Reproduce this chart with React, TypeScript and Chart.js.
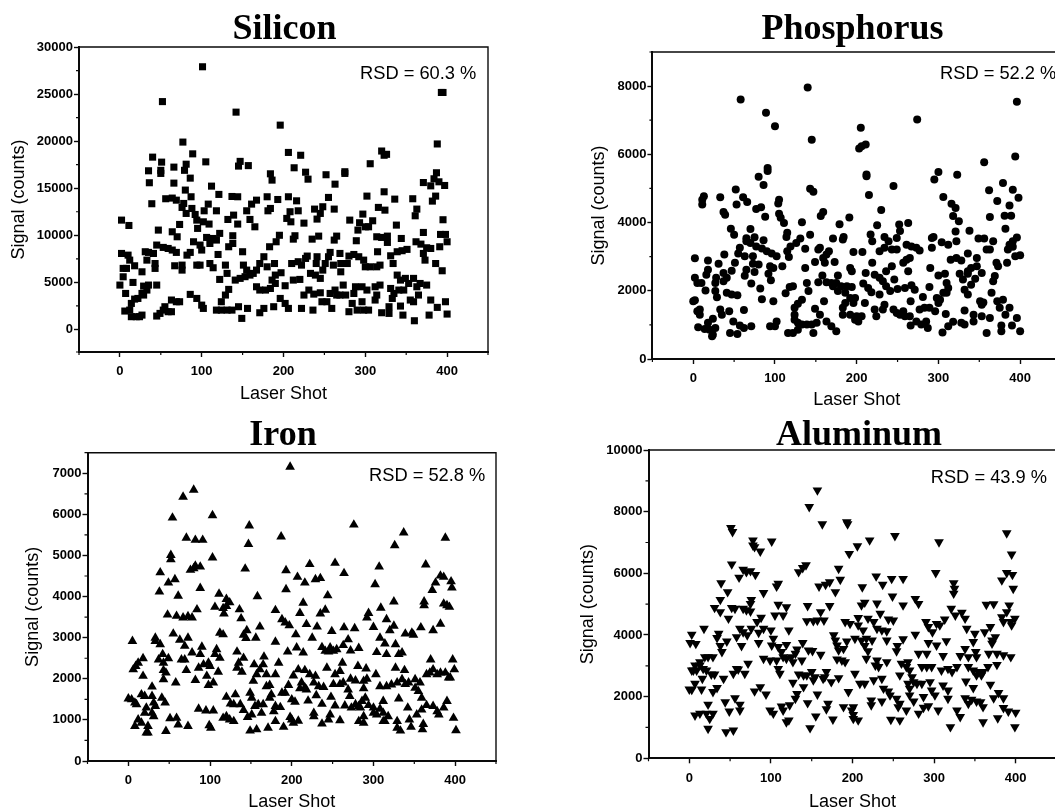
import React, { useEffect, useRef } from "react";
import { Chart, registerables } from "chart.js";

Chart.register(...registerables);

type Pt = [number, number];

const shotTicks = [0, 100, 200, 300, 400];
const shotMinorTicks = [-50, 50, 150, 250, 350, 450];

const siliconTicks = [0, 5000, 10000, 15000, 20000, 25000, 30000];
const siliconMinorTicks = [-2400, 2500, 7500, 12500, 17500, 22500, 27500];
const phosphorusTicks = [0, 2000, 4000, 6000, 8000];
const phosphorusMinorTicks = [1000, 3000, 5000, 7000, 9000];
const ironTicks = [0, 1000, 2000, 3000, 4000, 5000, 6000, 7000];
const ironMinorTicks = [500, 1500, 2500, 3500, 4500, 5500, 6500, 7500];
const aluminumTicks = [0, 2000, 4000, 6000, 8000, 10000];
const aluminumMinorTicks = [1000, 3000, 5000, 7000, 9000];

const siliconPoints: Pt[] = [
  [101,27900],[393,25170],[395,25170],[52,24200],[142,23080],[196,21700],[77,19900],[388,19700],[40,18300],[89,18650],[206,18800],[221,18500],[320,18950],[326,18600],[323,18500],
  [51,17770],[105,17800],[147,17850],[145,17350],[157,17400],[306,17600],[66,17240],[81,17550],[79,16900],[35,16850],[50,16900],[50,16570],[213,17170],[184,16530],[186,15860],[227,16700],[230,15960],[252,16430],[275,16750],[275,16570],[387,16640],[86,16070],[36,15580],[66,15540],[263,15430],[112,15220],
  [371,15600],[380,15250],[384,16000],[390,15680],[397,15290],[323,14620],[80,14800],[121,14340],[137,14120],[144,14090],[87,14090],[180,14090],[193,13800],[206,14090],[216,13660],[255,14020],[302,14160],[336,13840],[358,13880],[386,14160],[382,13630],
  [56,13880],[64,13950],[69,13730],[78,13380],[76,12960],[39,13350],[167,13730],[161,13310],[108,13310],[103,12600],[118,12600],[88,12850],[92,12210],[81,12320],[94,11610],[139,12140],[132,11680],[144,11190],[155,12600],[159,11680],[165,10900],[184,12850],[181,12600],
  [208,12500],[204,11790],[209,11430],[218,12600],[225,11290],[238,12780],[245,12320],[248,13030],[241,11720],[262,12780],[316,12960],[324,12670],[363,12780],[361,12070],[281,11610],[297,12250],[293,11330],[304,10900],[309,11540],[300,10900],[291,10550],[338,11080],
  [2,11610],[11,11040],[73,11150],[102,11430],[109,11190],[47,10550],[64,10370],[70,9840],[95,10730],[395,11650],[371,10300],[392,10090],[398,10090],[122,10200],[138,9950],[106,9770],[114,9660],[110,9130],[118,9490],[195,10000],[191,9310],[183,8780],[214,9950],[212,9590],[235,9590],[243,9910],[265,9910],[262,9490],[289,9420],
  [314,9840],[320,9770],[327,9910],[327,9240],[344,9660],[362,9310],[368,9060],[375,8670],[391,8780],[400,9310],[45,8960],[53,8710],[59,8600],[64,8430],[69,8180],[31,8250],[35,8180],[41,8070],[2,8070],[10,7890],[12,7360],[82,7890],[86,8180],[90,9310],[98,8960],[100,8430],[133,8780],[138,9130],[150,8250],[120,7960],[315,8250],
  [257,8180],[255,7720],[269,8070],[280,7790],[286,7960],[292,7720],[298,7360],[331,7820],[339,8250],[345,8360],[351,8500],[380,8600],[371,8070],[373,7360],[334,7000],[386,7000],[394,6230],[76,6830],[67,6760],[76,6300],[94,6830],[98,6830],[110,7000],[114,6550],[129,6830],[131,5950],
  [176,7720],[171,7000],[180,6650],[167,6300],[163,5950],[151,6830],[155,6300],[159,5770],[153,5600],[147,5420],[141,5240],[189,7000],[210,7000],[218,7190],[227,7540],[229,7790],[222,6830],[241,7720],[240,7000],[251,7000],[261,6830],[248,6300],[270,7000],[278,7000],[270,6120],[300,6650],[306,6650],[314,6650],[318,6830],
  [33,7360],[43,7000],[43,6480],[4,6480],[8,6480],[18,6760],[27,6120],[4,5590],[197,6020],[190,5770],[186,5240],[233,5950],[239,5770],[245,5420],[212,5240],[220,5310],[202,4640],[122,5310],[339,5770],[343,5240],[349,5420],[359,5420],[353,4880],[363,4530],[375,4710],[367,4880],[16,4990],[0,4710],[7,3820],
  [29,4600],[35,4710],[45,4710],[27,3820],[33,4180],[29,3650],[22,3290],[18,3220],[14,2760],[6,1950],[12,2050],[14,1350],[20,1350],[24,1350],[27,1520],[45,1420],[49,1700],[53,2050],[59,1880],[63,1880],[55,2410],[63,3120],[69,2940],[73,2940],[86,3720],[94,3290],[100,2580],[102,2230],
  [118,2050],[124,2050],[131,2050],[137,2050],[124,2940],[129,3650],[133,4250],[145,2410],[149,1170],[156,2230],[171,1770],[176,2230],[188,2410],[196,3290],[202,2760],[206,2230],[222,2230],[236,2050],[171,4180],[178,4180],[184,4350],[167,4530],[190,4880],[225,3650],[231,4180],[237,3750],[245,3890],[247,2940],[253,2940],[259,2230],
  [257,3820],[263,4180],[269,3650],[273,4710],[276,3650],[265,3650],[280,1880],[284,2760],[288,4530],[290,2050],[296,2940],[298,2050],[304,2050],[286,3820],[296,4530],[302,4180],[312,4530],[318,4710],[312,3120],[314,3650],[320,1770],[329,1700],[331,4350],[333,3290],[329,2410],[341,4180],[347,4180],[335,3820],[343,2480],[346,1520],[355,3120],[359,2940],[365,3650],[360,920],[378,1520],[380,3120],[388,2340],[398,2940],[400,1630],
];

const phosphorusPoints: Pt[] = [
  [140,7960],[58,7610],[89,7220],[396,7540],[100,6820],[274,7020],[145,6430],[205,6780],[203,6170],[206,6240],[211,6290],[394,5940],[356,5770],[91,5600],[91,5510],[212,5410],[212,5360],[300,5480],[295,5260],[323,5400],[80,5340],[86,5100],[245,5070],[379,5160],[143,4990],[147,4900],[52,4970],[362,4950],[391,4960],
  [13,4770],[11,4670],[11,4530],[33,4740],[61,4740],[66,4600],[215,4810],[306,4750],[398,4730],[372,4630],[105,4670],[104,4560],[53,4530],[77,4400],[83,4450],[316,4550],[321,4430],[387,4500],[230,4370],[37,4310],[39,4230],[159,4310],[156,4190],[88,4170],[105,4260],[107,4140],[111,3990],[191,4150],[318,4190],[325,4040],[363,4160],[381,4200],[389,4200],
  [133,4010],[179,3950],[225,3920],[252,3940],[263,3990],[70,3810],[46,3820],[50,3640],[382,3820],[253,3750],[249,3550],[321,3740],[338,3760],[115,3700],[114,3580],[217,3650],[219,3450],[143,3640],[171,3530],[184,3580],[183,3500],[234,3580],[239,3450],[349,3530],[356,3530],[292,3550],[294,3580],[396,3560],[391,3450],[387,3350],
  [65,3540],[75,3570],[70,3400],[65,3450],[86,3480],[131,3530],[126,3400],[119,3300],[115,3160],[304,3420],[312,3350],[322,3450],[367,3450],[77,3300],[84,3240],[90,3160],[96,3090],[102,3010],[261,3350],[267,3300],[273,3260],[277,3180],[137,3230],[153,3210],[155,3260],[166,3160],[163,3060],[228,3160],[234,3260],[243,3210],[249,3210],[292,3260],[196,3140],[207,3140],[359,3210],[363,3210],[385,3210],[391,3290],
  [57,3260],[55,3090],[63,3010],[73,3010],[336,3090],[38,3060],[2,2950],[18,2890],[347,2960],[394,3010],[400,3040],[117,2990],[159,2960],[261,2910],[265,2960],[257,2820],[315,2910],[322,2960],[328,2890],[371,2820],[373,2720],[384,2820],[31,2790],[51,2820],[73,2790],[80,2770],[149,2840],[161,2820],[173,2840],[219,2820],
  [65,2620],[94,2720],[98,2670],[109,2720],[137,2670],[192,2670],[194,2570],[243,2720],[290,2670],[347,2720],[340,2670],[336,2570],[18,2620],[16,2470],[37,2520],[47,2590],[75,2550],[63,2440],[92,2500],[95,2310],[211,2520],[236,2570],[263,2570],[300,2450],[308,2500],[326,2500],[336,2500],[353,2520],[369,2430],[367,2280],[177,2450],[158,2450],
  [222,2470],[228,2380],[232,2280],[236,2130],[241,1990],[28,2380],[27,2230],[37,2280],[41,2380],[2,2380],[5,2230],[10,2230],[246,2330],[153,2250],[163,2250],[169,2230],[175,2230],[171,2130],[208,2210],[214,2080],[218,1960],[310,2230],[312,2080],[330,2330],[345,2350],[340,2180],[332,2030],[336,1890],[71,2210],[82,2070],[122,2130],[118,2110],[139,2230],[141,1990],
  [181,2130],[188,2130],[194,2110],[177,1990],[186,1940],[250,2050],[259,2080],[267,2160],[271,2030],[289,2110],[15,2010],[27,1990],[29,1810],[41,1940],[47,1890],[54,1870],[113,1930],[228,1890],[365,1940],[306,1940],[310,1940],[302,1740],[298,1790],[2,1720],[0,1690],[84,1750],[98,1690],[160,1690],[198,1790],[192,1790],[281,1820],[372,1690],[379,1740],
  [133,1740],[128,1620],[124,1500],[351,1690],[355,1660],[353,1590],[210,1640],[186,1640],[183,1500],[196,1640],[266,1690],[300,1640],[234,1590],[375,1500],[387,1500],[149,1470],[8,1450],[5,1400],[8,1300],[62,1440],[33,1450],[35,1300],[44,1400],[222,1450],[232,1450],[224,1250],[245,1450],[249,1350],[253,1300],[257,1400],[259,1250],[265,1250],[277,1450],[283,1500],[289,1500],[296,1400],[332,1420],
  [183,1300],[192,1300],[200,1250],[206,1250],[198,1150],[202,1100],[155,1300],[163,1100],[309,1320],[124,1300],[124,1150],[128,1060],[133,1010],[139,1010],[145,1010],[151,1060],[343,1300],[343,1100],[353,1250],[363,1200],[382,1300],[396,1200],[49,1100],[24,1180],[18,1060],[102,1100],[94,960],[100,960],[273,1100],[279,1010],[285,1100],[287,910],[266,980],[318,1090],[328,1060],[332,1010],[312,960],[305,780],
  [169,960],[175,810],[71,960],[57,980],[62,910],[6,930],[14,880],[20,860],[27,910],[377,980],[377,810],[390,980],[400,810],[359,760],[24,710],[23,670],[45,760],[54,730],[116,760],[122,760],[128,860],[147,760],
];

const ironPoints: Pt[] = [
  [198,7190],[80,6630],[67,6460],[103,6010],[54,5950],[276,5780],[148,5760],[337,5590],[187,5490],[388,5460],[71,5460],[82,5410],[91,5410],[326,5280],[147,5310],[52,5040],[52,4940],[103,4980],[222,4820],[253,4850],[364,4810],[307,4760],[143,4710],[82,4780],[76,4680],[80,4720],[88,4760],[193,4670],[39,4620],[264,4600],
  [207,4510],[216,4370],[229,4450],[235,4480],[382,4540],[386,4510],[376,4370],[49,4370],[57,4450],[302,4330],[395,4400],[396,4250],[88,4240],[193,4210],[38,4150],[372,4190],[61,4050],[111,4100],[158,4040],[244,4060],[120,3970],[124,3890],[120,3800],[325,3910],[214,3880],[362,3910],[362,3820],[386,3860],[390,3820],[393,3780],[106,3780],[116,3750],[309,3760],[84,3720],[136,3720],[180,3700],[241,3710],
  [294,3630],[292,3520],[210,3630],[235,3620],[48,3590],[59,3560],[67,3520],[73,3550],[78,3520],[117,3620],[138,3500],[316,3480],[188,3480],[192,3400],[197,3330],[218,3360],[231,3300],[300,3290],[325,3320],[264,3280],[277,3260],[320,3210],[358,3280],[161,3300],[145,3210],[141,3100],[144,3020],[382,3370],[373,3210],[339,3130],[347,3150],[349,3100],[112,3150],[116,3110],[55,3130],[205,3110],[249,3190],[156,3030],[225,3030],[308,3030],
  [33,3030],[33,2950],[39,2870],[63,2980],[69,2830],[5,2950],[73,3030],[180,2930],[269,2990],[263,2850],[314,2890],[327,2870],[237,2800],[241,2710],[247,2790],[251,2710],[255,2750],[245,2690],[90,2810],[88,2630],[98,2420],[206,2790],[214,2670],[108,2750],[106,2630],[112,2540],[272,2720],[282,2780],[195,2690],[78,2670],[304,2680],[133,2690],[141,2540],[316,2630],[335,2670],[331,2630],
  [42,2630],[37,2500],[49,2530],[43,2420],[65,2500],[69,2500],[166,2570],[370,2500],[397,2500],[18,2530],[12,2420],[9,2340],[6,2260],[262,2420],[184,2420],[86,2300],[92,2380],[100,2340],[71,2240],[135,2420],[133,2300],[139,2200],[154,2380],[165,2380],[161,2260],[157,2140],[281,2340],[291,2280],[327,2300],[338,2240],[208,2260],[216,2240],[222,2140],[229,2100],[43,2240],[46,2180],[243,2300],[259,2220],[110,2200],[104,1940],
  [373,2260],[365,2140],[382,2180],[388,2180],[399,2260],[369,2180],[378,2140],[394,2060],[18,2100],[169,2140],[180,2140],[253,2140],[202,2110],[303,2140],[96,2100],[272,2030],[278,1990],[292,2030],[288,1980],[335,2020],[343,1940],[351,2020],[357,1940],[339,1900],[43,2020],[58,1940],[82,2000],[153,1980],[392,2060],[98,1880],[212,1940],[216,1820],[196,1880],[169,1850],[173,1880],[251,1900],[259,1900],[263,1940],[227,1940],[233,1850],[239,1830],
  [308,1850],[316,1850],[322,1890],[329,1940],[351,1810],[355,1730],[359,1570],[29,1840],[288,1800],[210,1800],[218,1770],[269,1770],[271,1610],[188,1690],[192,1690],[149,1690],[151,1570],[131,1650],[120,1590],[175,1650],[173,1570],[16,1650],[20,1610],[29,1610],[41,1570],[230,1630],[331,1550],[248,1590],[0,1550],[4,1530],[220,1500],[200,1530],[204,1470],[312,1490],[390,1490],[290,1570],[31,1450],[45,1450],[8,1450],[10,1410],
  [278,1410],[286,1490],[282,1370],[237,1420],[129,1410],[137,1410],[125,1430],[159,1410],[165,1410],[155,1370],[180,1370],[186,1340],[253,1380],[265,1380],[273,1330],[284,1330],[294,1390],[300,1330],[308,1300],[365,1390],[373,1370],[22,1330],[33,1370],[342,1330],[86,1300],[95,1260],[104,1260],[141,1270],[178,1240],[359,1280],[353,1160],[378,1240],[380,1160],[386,1330],[163,1200],[227,1200],[227,1120],[151,1160],[146,1100],
  [300,1200],[304,1160],[312,1200],[318,1120],[20,1200],[29,1200],[31,1120],[247,1160],[245,1040],[288,1120],[59,1080],[51,1070],[120,1120],[116,1080],[124,1040],[129,1000],[198,1100],[200,1040],[208,1010],[398,1080],[344,1040],[282,1000],[288,960],[312,1000],[314,1000],[329,1000],[12,1040],[8,880],[16,960],[61,920],[259,1020],[180,1000],[361,930],[202,960],[237,940],[24,880],[24,720],[22,720],[99,900],[101,840],[73,880],[190,860],[171,840],[329,840],[333,770],[346,860],[46,760],[149,770],[157,800],[360,800],[401,780],
];

const aluminumPoints: Pt[] = [
  [157,8650],[147,8110],[163,7550],[193,7620],[194,7550],[51,7430],[53,7300],[389,7260],[252,7170],[78,7030],[78,6860],[80,6810],[87,6670],[101,6990],[221,7030],[306,6970],[206,6840],[196,6590],[395,6570],[52,6250],[143,6220],[139,6130],[134,6000],[183,6110],[66,6080],[75,6030],[70,6000],[81,5910],[302,5970],[389,5970],[396,5910],[61,5820],[229,5860],[383,5730],[185,5750],[248,5780],[262,5780],[39,5640],[109,5620],[107,5530],[237,5590],[172,5670],[167,5590],[159,5530],
  [324,5640],[325,5460],[324,5300],[212,5510],[397,5460],[47,5350],[91,5320],[179,5350],[249,5210],[277,5130],[281,4970],[38,5100],[76,5100],[75,4970],[215,5010],[211,4920],[230,4980],[262,4920],[364,4940],[373,4960],[392,4920],[109,4940],[119,4860],[145,4900],[172,4900],[31,4840],[38,4700],[52,4840],[56,4810],[66,4810],[70,4760],[75,4720],[321,4810],[389,4700],[383,4540],[105,4590],[115,4590],[161,4700],[234,4650],[334,4680],[338,4490],[326,4590],
  [48,4490],[88,4520],[83,4380],[207,4510],[219,4490],[226,4380],[244,4460],[250,4430],[144,4410],[152,4410],[157,4430],[165,4430],[399,4490],[394,4380],[313,4460],[191,4380],[197,4320],[290,4380],[303,4320],[307,4270],[385,4380],[395,4270],[207,4270],[213,4110],[18,4160],[76,4160],[91,4160],[100,4110],[293,4220],[298,4050],[122,4110],[236,4110],[242,4080],[230,4160],[340,4160],[62,4160],[66,4050],[3,3970],[36,4000],[277,3970],[350,4000],[362,4050],[369,4220],
  [58,3890],[71,3950],[85,4030],[177,3950],[179,3780],[34,3860],[217,3840],[211,3780],[224,3780],[262,3820],[375,3890],[371,3780],[242,3780],[315,3760],[203,3840],[1,3700],[8,3670],[46,3750],[85,3700],[103,3840],[139,3700],[193,3750],[293,3700],[348,3730],[181,3620],[183,3460],[303,3620],[38,3600],[40,3410],[64,3600],[101,3620],[109,3570],[119,3640],[371,3680],[255,3600],[215,3600],[189,3510],[132,3490],[130,3350],[338,3510],[146,3460],[151,3440],[161,3320],[254,3430],[219,3430],[351,3410],[352,3240],[113,3410],
  [281,3350],[291,3350],[311,3280],[367,3350],[377,3350],[385,3300],[394,3240],[115,3240],[119,3190],[332,3280],[342,3240],[91,3190],[99,3130],[107,3130],[125,3240],[127,3080],[138,3130],[181,3170],[187,3130],[191,3080],[217,3190],[230,3130],[228,2970],[242,3080],[268,3080],[260,3030],[13,3080],[19,3240],[23,3240],[29,3240],[7,2970],[13,2970],[5,2810],[72,3030],[17,2860],[21,2810],[58,2860],[291,2920],[285,2920],[297,2920],[232,2920],[377,2990],[366,2920],[266,2920],[270,2810],
  [309,2810],[317,2860],[328,2920],[322,2760],[348,2810],[354,2760],[360,2760],[342,2920],[3,2810],[9,2810],[109,2860],[111,2700],[68,2700],[54,2700],[60,2840],[27,2680],[31,2680],[352,2650],[358,2650],[150,2760],[154,2590],[140,2650],[134,2680],[144,2650],[168,2760],[166,2590],[174,2430],[183,2560],[164,2540],[203,2700],[258,2650],[16,2540],[7,2380],[3,2180],[42,2540],[236,2540],[226,2490],[215,2380],[209,2380],[273,2590],[275,2430],[152,2490],[339,2450],
  [279,2380],[285,2380],[295,2430],[268,2380],[127,2410],[369,2350],[311,2320],[317,2160],[140,2270],[348,2240],[34,2240],[87,2270],[80,2130],[238,2220],[244,2130],[270,2220],[270,2000],[15,2190],[29,2110],[0,2190],[195,2110],[297,2160],[301,2000],[94,2030],[379,2080],[373,1910],[385,1910],[132,2050],[130,1890],[157,2030],[246,2000],[254,1890],[258,1730],[287,1950],[317,1890],[338,1910],[346,1860],[352,1800],[357,1780],[342,1730],[56,1910],[275,1800],[236,1800],[223,1840],[44,1780],[145,1750],[170,1730],[168,1550],
  [23,1700],[62,1700],[62,1510],[293,1650],[287,1600],[123,1680],[113,1640],[115,1510],[189,1620],[201,1620],[199,1510],[201,1370],[223,1680],[256,1620],[360,1620],[385,1590],[391,1480],[266,1510],[305,1510],[328,1510],[332,1300],[49,1480],[99,1510],[103,1410],[400,1440],[7,1350],[13,1410],[21,1410],[29,1410],[25,1240],[281,1410],[155,1320],[201,1240],[207,1190],[176,1220],[247,1210],[258,1190],[378,1260],[119,1130],[122,1190],[360,1130],[148,940],[23,920],[320,970],[399,970],[45,810],[54,860],
];

const AXIS_FONT = "'Liberation Sans', Arial, sans-serif";
const TITLE_FONT = "'Liberation Serif', 'Times New Roman', serif";
const INK = "#0a0a0a";

type Panel = {
  title: string;
  rsd: string;
  points: Pt[];
  pointStyle: string;
  radius: number;
  rotation: number;
  markerCentering: number;
  yTicks: number[];
  yMinor: number[];
  yMin: number;
  yMax: number;
  box: { left: number; top: number; width: number; height: number };
  plot: { l: number; r: number; t: number; b: number };
  titleAt: { x: number; y: number };
  rsdAt: { x: number; y: number };
  xTitleY: number;
  yTitleX: number;
};

const panels: Panel[] = [
  {
    title: "Silicon", rsd: "RSD = 60.3 %", points: siliconPoints, pointStyle: "rect", radius: 5, rotation: 0, markerCentering: 0,
    yTicks: siliconTicks, yMinor: siliconMinorTicks, yMin: -2400, yMax: 30000,
    box: { left: 0, top: 0, width: 527, height: 410 },
    plot: { l: 79, r: 488, t: 47, b: 352 },
    titleAt: { x: 284.5, y: 29.5 }, rsdAt: { x: 360, y: 74 }, xTitleY: 394, yTitleX: 19,
  },
  {
    title: "Phosphorus", rsd: "RSD = 52.2 %", points: phosphorusPoints, pointStyle: "circle", radius: 4, rotation: 0, markerCentering: 0,
    yTicks: phosphorusTicks, yMinor: phosphorusMinorTicks, yMin: 0, yMax: 9000,
    box: { left: 560, top: 0, width: 515, height: 410 },
    plot: { l: 652.4, r: 1061, t: 52, b: 359 },
    titleAt: { x: 852.5, y: 29.5 }, rsdAt: { x: 940, y: 74 }, xTitleY: 400.5, yTitleX: 599,
  },
  {
    title: "Iron", rsd: "RSD = 52.8 %", points: ironPoints, pointStyle: "triangle", radius: 5.6, rotation: 0, markerCentering: -34,
    yTicks: ironTicks, yMinor: ironMinorTicks, yMin: 0, yMax: 7500,
    box: { left: 0, top: 410, width: 527, height: 410 },
    plot: { l: 87.5, r: 496, t: 452.7, b: 761 },
    titleAt: { x: 283, y: 436 }, rsdAt: { x: 369, y: 476 }, xTitleY: 802, yTitleX: 33,
  },
  {
    title: "Aluminum", rsd: "RSD = 43.9 %", points: aluminumPoints, pointStyle: "triangle", radius: 5.6, rotation: 180, markerCentering: 45,
    yTicks: aluminumTicks, yMinor: aluminumMinorTicks, yMin: 0, yMax: 10000,
    box: { left: 560, top: 410, width: 515, height: 410 },
    plot: { l: 648.5, r: 1056.5, t: 450, b: 758.3 },
    titleAt: { x: 859, y: 435.5 }, rsdAt: { x: 930.7, y: 478 }, xTitleY: 802, yTitleX: 588,
  },
];

function buildChart(canvas: HTMLCanvasElement, p: Panel) {
  const titleSize = 36;
  const plotTop = p.plot.t - p.box.top;
  const titleMid = p.titleAt.y - p.box.top;

  const panelPlugin = {
    id: "panelDecor",
    afterLayout(chart: any) {
      const tb = chart.titleBlock;
      if (tb) {
        const cx = p.titleAt.x - p.box.left;
        const w = tb.right - tb.left;
        tb.left = cx - w / 2;
        tb.right = cx + w / 2;
      }
    },
    afterDraw(chart: any) {
      const { ctx, chartArea: a, scales } = chart;
      ctx.save();
      ctx.strokeStyle = INK;
      ctx.lineWidth = 1.4;
      ctx.beginPath();
      ctx.moveTo(a.left, a.top);
      ctx.lineTo(a.right, a.top);
      ctx.lineTo(a.right, a.bottom);
      ctx.stroke();
      ctx.lineWidth = 1.2;
      ctx.beginPath();
      for (const v of shotMinorTicks) {
        const x = scales.x.getPixelForValue(v);
        ctx.moveTo(x, a.bottom);
        ctx.lineTo(x, a.bottom + 3);
      }
      for (const v of p.yMinor) {
        const y = scales.y.getPixelForValue(v);
        ctx.moveTo(a.left, y);
        ctx.lineTo(a.left - 3, y);
      }
      ctx.stroke();
      ctx.fillStyle = "#000";
      ctx.font = `18.3px ${AXIS_FONT}`;
      ctx.textAlign = "left";
      ctx.textBaseline = "middle";
      ctx.fillText(p.rsd, p.rsdAt.x - p.box.left, p.rsdAt.y - p.box.top);
      ctx.restore();
    },
  };

  return new Chart(canvas, {
    type: "scatter",
    data: {
      datasets: [
        {
          label: p.title,
          data: p.points.map(([x, y]) => ({ x, y: y + p.markerCentering })),
          pointStyle: p.pointStyle as any,
          pointRadius: p.radius,
          pointHoverRadius: p.radius,
          pointRotation: p.rotation,
          pointBackgroundColor: "#000",
          pointBorderWidth: 0,
          showLine: false,
          clip: false,
        },
      ],
    },
    plugins: [panelPlugin],
    options: {
      animation: false,
      responsive: false,
      maintainAspectRatio: false,
      events: [],
      layout: { padding: { left: 0, top: 0, bottom: 0, right: p.box.left + p.box.width - p.plot.r } },
      plugins: {
        legend: { display: false },
        tooltip: { enabled: false },
        title: {
          display: true,
          text: p.title,
          color: "#000",
          font: { family: TITLE_FONT, size: titleSize, weight: "bold", lineHeight: 1 },
          padding: { top: titleMid - titleSize / 2, bottom: plotTop - titleMid - titleSize / 2 },
        },
      },
      scales: {
        x: {
          type: "linear",
          min: -50,
          max: 450,
          afterBuildTicks(scale: any) {
            scale.ticks = shotTicks.map((value) => ({ value }));
          },
          afterFit(scale: any) {
            scale.height = p.box.top + p.box.height - p.plot.b;
          },
          ticks: {
            autoSkip: false,
            maxRotation: 0,
            padding: 7,
            color: "#000",
            font: { family: AXIS_FONT, size: 13, weight: "bold" },
            callback: (v: any) => String(v),
          },
          grid: { drawOnChartArea: false, drawTicks: true, tickLength: 5, tickColor: INK, tickWidth: 1.4 },
          border: { display: true, color: INK, width: 2 },
          title: {
            display: true,
            text: "Laser Shot",
            color: "#000",
            font: { family: AXIS_FONT, size: 18, lineHeight: 1 },
            padding: { top: 0, bottom: p.box.top + p.box.height - p.xTitleY - 9 },
          },
        },
        y: {
          type: "linear",
          min: p.yMin,
          max: p.yMax,
          afterBuildTicks(scale: any) {
            scale.ticks = p.yTicks.map((value) => ({ value }));
          },
          afterFit(scale: any) {
            scale.width = p.plot.l - p.box.left;
          },
          ticks: {
            autoSkip: false,
            padding: 1,
            color: "#000",
            font: { family: AXIS_FONT, size: 13, weight: "bold" },
            callback: (v: any) => String(v),
          },
          grid: { drawOnChartArea: false, drawTicks: true, tickLength: 5, tickColor: INK, tickWidth: 1.4 },
          border: { display: true, color: INK, width: 2 },
          title: {
            display: true,
            text: "Signal (counts)",
            color: "#000",
            font: { family: AXIS_FONT, size: 18, lineHeight: 1 },
            padding: { top: p.yTitleX - p.box.left - 9, bottom: 0 },
          },
        },
      },
    } as any,
  });
}

function PanelChart({ panel }: { panel: Panel }) {
  const ref = useRef<HTMLCanvasElement | null>(null);
  useEffect(() => {
    if (!ref.current) return;
    const chart = buildChart(ref.current, panel);
    return () => chart.destroy();
  }, [panel]);
  const { left, top, width, height } = panel.box;
  return (
    <canvas
      ref={ref}
      width={width}
      height={height}
      style={{ position: "absolute", left, top, width, height, display: "block" }}
    />
  );
}

export default function App() {
  return (
    <div
      style={{
        position: "absolute",
        left: 0,
        top: 0,
        width: 1055,
        height: 810,
        overflow: "hidden",
        background: "#fff",
      }}
    >
      {panels.map((p) => (
        <PanelChart key={p.title} panel={p} />
      ))}
    </div>
  );
}
